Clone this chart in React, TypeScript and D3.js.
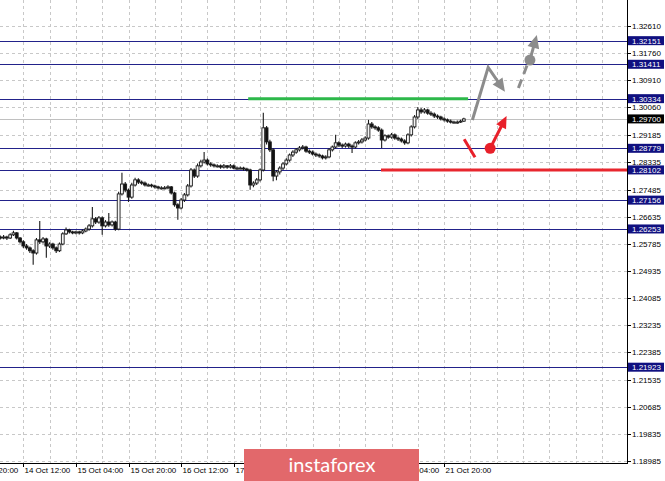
import React from 'react';
import * as d3 from 'd3';

const W = 665;
const H = 481;

const priceTicks = [1.3261, 1.3176, 1.3091, 1.3006, 1.29185, 1.28335, 1.27485, 1.26635, 1.25785, 1.24935, 1.24085, 1.23235, 1.22385, 1.21535, 1.20685, 1.19835, 1.18985];
const levelPrices = [1.32151, 1.31411, 1.30334, 1.28779, 1.28102, 1.27156, 1.26253, 1.21923];
const bidPrice = 1.297;
const timeTickIdx = [-9, 7, 23, 39, 55, 71, 87, 103, 119, 135];
const timeTickLabels = ['13 Oct 20:00', '14 Oct 12:00', '15 Oct 04:00', '15 Oct 20:00', '16 Oct 12:00', '17 Oct 04:00', '17 Oct 20:00', '18 Oct 12:00', '21 Oct 04:00', '21 Oct 20:00'];

const opens = [1.2600, 1.2597, 1.2600, 1.2597, 1.2607, 1.2613, 1.2597, 1.2585, 1.2572, 1.2566,
  1.2557, 1.2550, 1.2591, 1.2585, 1.2594, 1.2572, 1.2578, 1.2566, 1.2557, 1.2578,
  1.2610, 1.2622, 1.2616, 1.2613, 1.2616, 1.2613, 1.2619, 1.2625, 1.2635, 1.2657,
  1.2647, 1.2660, 1.2635, 1.2647, 1.2638, 1.2647, 1.2625, 1.2735, 1.2766, 1.2747,
  1.2725, 1.2763, 1.2779, 1.2772, 1.2769, 1.2763, 1.2763, 1.2760, 1.2757, 1.2754,
  1.2754, 1.2754, 1.2757, 1.2738, 1.2701, 1.2691, 1.2716, 1.2732, 1.2760, 1.2810,
  1.2791, 1.2823, 1.2835, 1.2841, 1.2829, 1.2826, 1.2823, 1.2823, 1.2819, 1.2823,
  1.2819, 1.2823, 1.2816, 1.2816, 1.2816, 1.2813, 1.2810, 1.2763, 1.2769, 1.2779,
  1.2810, 1.2942, 1.2898, 1.2873, 1.2791, 1.2804, 1.2816, 1.2829, 1.2841, 1.2857,
  1.2866, 1.2873, 1.2879, 1.2882, 1.2869, 1.2866, 1.2860, 1.2857, 1.2854, 1.2848,
  1.2851, 1.2873, 1.2882, 1.2895, 1.2888, 1.2885, 1.2891, 1.2885, 1.2882, 1.2895,
  1.2898, 1.2904, 1.2910, 1.2954, 1.2945, 1.2942, 1.2935, 1.2904, 1.2917, 1.2913,
  1.2920, 1.2910, 1.2907, 1.2901, 1.2895, 1.2920, 1.2945, 1.2976, 1.2998, 1.2992,
  1.2998, 1.2988, 1.2985, 1.2979, 1.2976, 1.2970, 1.2967, 1.2963, 1.2960, 1.2960,
  1.2960, 1.2963];

const closes = [1.2597, 1.2600, 1.2597, 1.2607, 1.2613, 1.2597, 1.2585, 1.2572, 1.2566, 1.2557,
  1.2550, 1.2591, 1.2585, 1.2594, 1.2572, 1.2578, 1.2566, 1.2557, 1.2578, 1.2610,
  1.2622, 1.2616, 1.2613, 1.2616, 1.2613, 1.2619, 1.2625, 1.2635, 1.2657, 1.2647,
  1.2660, 1.2635, 1.2647, 1.2638, 1.2647, 1.2625, 1.2735, 1.2766, 1.2747, 1.2725,
  1.2763, 1.2779, 1.2772, 1.2769, 1.2763, 1.2763, 1.2760, 1.2757, 1.2754, 1.2754,
  1.2754, 1.2757, 1.2738, 1.2701, 1.2691, 1.2716, 1.2732, 1.2760, 1.2810, 1.2791,
  1.2823, 1.2835, 1.2841, 1.2829, 1.2826, 1.2823, 1.2823, 1.2819, 1.2823, 1.2819,
  1.2823, 1.2816, 1.2816, 1.2816, 1.2813, 1.2810, 1.2763, 1.2769, 1.2779, 1.2810,
  1.2942, 1.2898, 1.2873, 1.2791, 1.2804, 1.2816, 1.2829, 1.2841, 1.2857, 1.2866,
  1.2873, 1.2879, 1.2882, 1.2869, 1.2866, 1.2860, 1.2857, 1.2854, 1.2848, 1.2851,
  1.2873, 1.2882, 1.2895, 1.2888, 1.2885, 1.2891, 1.2885, 1.2882, 1.2895, 1.2898,
  1.2904, 1.2910, 1.2954, 1.2945, 1.2942, 1.2935, 1.2904, 1.2917, 1.2913, 1.2920,
  1.2910, 1.2907, 1.2901, 1.2895, 1.2920, 1.2945, 1.2976, 1.2998, 1.2992, 1.2998,
  1.2988, 1.2985, 1.2979, 1.2976, 1.2970, 1.2967, 1.2963, 1.2960, 1.2960, 1.2960,
  1.2963, 1.2970];

const highs = [1.2605, 1.2606, 1.2604, 1.2612, 1.2620, 1.2616, 1.2600, 1.2590, 1.2578, 1.2570,
  1.2562, 1.2597, 1.2650, 1.2600, 1.2598, 1.2584, 1.2582, 1.2570, 1.2583, 1.2615,
  1.2630, 1.2626, 1.2620, 1.2620, 1.2620, 1.2624, 1.2630, 1.2641, 1.2694, 1.2663,
  1.2666, 1.2664, 1.2653, 1.2675, 1.2652, 1.2651, 1.2742, 1.2801, 1.2772, 1.2752,
  1.2770, 1.2786, 1.2784, 1.2777, 1.2774, 1.2768, 1.2767, 1.2764, 1.2761, 1.2759,
  1.2760, 1.2762, 1.2760, 1.2742, 1.2706, 1.2722, 1.2738, 1.2766, 1.2816, 1.2815,
  1.2830, 1.2842, 1.2866, 1.2846, 1.2834, 1.2830, 1.2828, 1.2827, 1.2829, 1.2826,
  1.2829, 1.2827, 1.2821, 1.2821, 1.2820, 1.2817, 1.2814, 1.2775, 1.2785, 1.2815,
  1.2989, 1.2948, 1.2905, 1.2878, 1.2810, 1.2822, 1.2834, 1.2847, 1.2862, 1.2872,
  1.2879, 1.2885, 1.2888, 1.2886, 1.2874, 1.2871, 1.2865, 1.2862, 1.2858, 1.2856,
  1.2878, 1.2887, 1.2920, 1.2900, 1.2893, 1.2896, 1.2895, 1.2890, 1.2900, 1.2904,
  1.2910, 1.2916, 1.2967, 1.2960, 1.2950, 1.2947, 1.2940, 1.2922, 1.2921, 1.2926,
  1.2924, 1.2915, 1.2912, 1.2906, 1.2925, 1.2950, 1.2982, 1.3007, 1.3004, 1.3004,
  1.3002, 1.2994, 1.2990, 1.2984, 1.2980, 1.2975, 1.2971, 1.2968, 1.2964, 1.2965,
  1.2967, 1.2974];

const lows = [1.2592, 1.2593, 1.2591, 1.2594, 1.2603, 1.2592, 1.2580, 1.2566, 1.2560, 1.2550,
  1.2513, 1.2545, 1.2578, 1.2580, 1.2535, 1.2566, 1.2560, 1.2550, 1.2553, 1.2574,
  1.2606, 1.2611, 1.2609, 1.2609, 1.2608, 1.2609, 1.2615, 1.2620, 1.2630, 1.2641,
  1.2642, 1.2607, 1.2630, 1.2632, 1.2633, 1.2620, 1.2621, 1.2730, 1.2740, 1.2710,
  1.2720, 1.2758, 1.2766, 1.2764, 1.2758, 1.2758, 1.2755, 1.2752, 1.2749, 1.2749,
  1.2750, 1.2750, 1.2733, 1.2695, 1.2654, 1.2686, 1.2710, 1.2727, 1.2755, 1.2785,
  1.2786, 1.2818, 1.2830, 1.2824, 1.2820, 1.2818, 1.2818, 1.2814, 1.2815, 1.2814,
  1.2815, 1.2812, 1.2811, 1.2812, 1.2808, 1.2805, 1.2748, 1.2756, 1.2763, 1.2774,
  1.2805, 1.2890, 1.2866, 1.2775, 1.2778, 1.2796, 1.2810, 1.2824, 1.2836, 1.2851,
  1.2861, 1.2868, 1.2874, 1.2864, 1.2860, 1.2855, 1.2851, 1.2848, 1.2843, 1.2843,
  1.2847, 1.2868, 1.2877, 1.2882, 1.2879, 1.2880, 1.2879, 1.2863, 1.2877, 1.2890,
  1.2893, 1.2899, 1.2905, 1.2939, 1.2936, 1.2930, 1.2879, 1.2899, 1.2908, 1.2908,
  1.2905, 1.2901, 1.2896, 1.2889, 1.2891, 1.2915, 1.2940, 1.2970, 1.2986, 1.2987,
  1.2983, 1.2979, 1.2973, 1.2970, 1.2965, 1.2962, 1.2958, 1.2956, 1.2956, 1.2955,
  1.2957, 1.2960];

// annotation anchors in (bar index, price)
const greenLevel = { from: 75.4, to: 142.3, price: 1.30334 };
const redLevel = { from: 115.8, to: 190.5, price: 1.28102 };
const redSlash = [[141.1, 1.2906], [144.4, 1.2850]];
const redDot = [149.0, 1.28779];
const redArrowTip = [154.0, 1.2979];
const grayPath = [[143.6, 1.29666], [148.4, 1.31316], [153.5, 1.30552]];
const grayDash = [[157.6, 1.30670], [160.3, 1.31400]];
const grayDot = [161.1, 1.31544];
const grayArrowTip = [163.2, 1.32327];

const xScale = d3.scaleLinear().domain([0, 190]).range([0.3, 0.3 + 190 * 3.2875]);
const yScale = d3.scaleLinear().domain([1.18985, 1.3261]).range([461, 26]);

const PLOT_R = 627;
const PLOT_B = 463;
const FONT = "'Liberation Sans', Arial, sans-serif";

function arrowHead(tip: number[], from: number[], len: number, half: number) {
  const tx = xScale(tip[0]), ty = yScale(tip[1]);
  const fx = xScale(from[0]), fy = yScale(from[1]);
  const dx = tx - fx, dy = ty - fy;
  const d = Math.hypot(dx, dy);
  const ux = dx / d, uy = dy / d;
  const bx = tx - ux * len, by = ty - uy * len;
  const px = -uy, py = ux;
  return `M${tx},${ty}L${bx + px * half},${by + py * half}L${bx - px * half},${by - py * half}Z`;
}

function shorten(tip: number[], from: number[], by: number) {
  const tx = xScale(tip[0]), ty = yScale(tip[1]);
  const fx = xScale(from[0]), fy = yScale(from[1]);
  const d = Math.hypot(tx - fx, ty - fy);
  return [tx - ((tx - fx) / d) * by, ty - ((ty - fy) / d) * by];
}

export default function App() {
  const gridX: number[] = [];
  for (let i = -1; xScale(i) < PLOT_R; i += 8) gridX.push(i);

  const bw = 2.8;
  const line = d3.line<number[]>().x(d => xScale(d[0])).y(d => yScale(d[1]));

  const grayEnd = shorten(grayPath[2], grayPath[1], 9);
  const redEnd = shorten(redArrowTip, redDot, 9);
  const grayTopEnd = shorten(grayArrowTip, grayDot, 9);

  return (
    <svg width={W} height={H} style={{ position: 'absolute', left: 0, top: 0, background: '#fff' }}>
      <rect x={0} y={0} width={W} height={H} fill="#fff" />
      {/* grid */}
      <g stroke="#c8c8c8" strokeWidth={1} strokeDasharray="3,3">
        {priceTicks.map((p, i) => (
          <line key={'gy' + i} x1={0} x2={PLOT_R} y1={Math.round(yScale(p)) + 0.5} y2={Math.round(yScale(p)) + 0.5} />
        ))}
        {gridX.map(i => (
          <line key={'gx' + i} x1={Math.round(xScale(i)) + 0.5} x2={Math.round(xScale(i)) + 0.5} y1={0} y2={PLOT_B} />
        ))}
      </g>
      {/* bid line */}
      <line x1={0} x2={PLOT_R} y1={Math.round(yScale(bidPrice)) + 0.5} y2={Math.round(yScale(bidPrice)) + 0.5} stroke="#c0c0c0" strokeWidth={1} />
      {/* level lines */}
      {levelPrices.map((p, i) => (
        <line key={'lv' + i} x1={0} x2={PLOT_R} y1={Math.round(yScale(p)) + 0.5} y2={Math.round(yScale(p)) + 0.5} stroke="#22228a" strokeWidth={1.2} />
      ))}
      {/* candles */}
      <g>
        {closes.map((c, i) => {
          const o = opens[i];
          const x = xScale(i);
          const yTop = yScale(Math.max(o, c));
          const yBot = yScale(Math.min(o, c));
          const bull = c >= o;
          return (
            <g key={'c' + i}>
              <line x1={x} x2={x} y1={yScale(highs[i])} y2={yScale(lows[i])} stroke="#1a1a1a" strokeWidth={1.1} />
              <rect x={x - bw / 2} y={yTop} width={bw} height={Math.max(1, yBot - yTop)}
                fill={bull ? '#f4f4f4' : '#111'} stroke="#1a1a1a" strokeWidth={0.9} />
            </g>
          );
        })}
      </g>
      {/* green & red level segments */}
      <line x1={xScale(greenLevel.from)} x2={xScale(greenLevel.to)} y1={yScale(greenLevel.price)} y2={yScale(greenLevel.price)} stroke="#2db84a" strokeWidth={3} />
      <line x1={xScale(redLevel.from)} x2={PLOT_R} y1={yScale(redLevel.price)} y2={yScale(redLevel.price)} stroke="#e8262e" strokeWidth={3} />
      {/* red scenario */}
      <path d={line(redSlash as number[][]) || ''} stroke="#e8202a" strokeWidth={3} fill="none" />
      <circle cx={xScale(redDot[0])} cy={yScale(redDot[1])} r={5.5} fill="#e8202a" />
      <line x1={xScale(redDot[0])} y1={yScale(redDot[1])} x2={redEnd[0]} y2={redEnd[1]} stroke="#e8202a" strokeWidth={3} />
      <path d={arrowHead(redArrowTip, redDot, 12, 5.5)} fill="#e8202a" />
      {/* gray scenario */}
      <path d={`M${xScale(grayPath[0][0])},${yScale(grayPath[0][1])}L${xScale(grayPath[1][0])},${yScale(grayPath[1][1])}L${grayEnd[0]},${grayEnd[1]}`} stroke="#8c8c8c" strokeWidth={3} fill="none" strokeLinejoin="miter" />
      <path d={arrowHead(grayPath[2], grayPath[1], 13, 6)} fill="#8c8c8c" />
      <path d={line(grayDash as number[][]) || ''} stroke="#8c8c8c" strokeWidth={3} fill="none" strokeDasharray="9,6" />
      <circle cx={xScale(grayDot[0])} cy={yScale(grayDot[1])} r={5.5} fill="#8c8c8c" />
      <line x1={xScale(grayDot[0])} y1={yScale(grayDot[1])} x2={grayTopEnd[0]} y2={grayTopEnd[1]} stroke="#8c8c8c" strokeWidth={3} />
      <path d={arrowHead(grayArrowTip, grayDot, 13, 6)} fill="#8c8c8c" />
      {/* axes */}
      <line x1={PLOT_R + 0.5} x2={PLOT_R + 0.5} y1={0} y2={PLOT_B + 1} stroke="#000" strokeWidth={1} />
      <line x1={0} x2={PLOT_R + 1} y1={PLOT_B + 0.5} y2={PLOT_B + 0.5} stroke="#000" strokeWidth={1} />
      {/* right axis labels */}
      <g fontFamily={FONT} fontSize={8} fill="#000">
        {priceTicks.map((p, i) => (
          <g key={'pt' + i}>
            <line x1={PLOT_R} x2={PLOT_R + 4} y1={Math.round(yScale(p)) + 0.5} y2={Math.round(yScale(p)) + 0.5} stroke="#000" />
            <text x={PLOT_R + 5} y={yScale(p) + 3}>{p.toFixed(5)}</text>
          </g>
        ))}
        {levelPrices.map((p, i) => (
          <g key={'lb' + i}>
            <rect x={PLOT_R + 1} y={yScale(p) - 4.5} width={36} height={9} fill="#101080" />
            <text x={PLOT_R + 5} y={yScale(p) + 3} fill="#fff">{p.toFixed(5)}</text>
          </g>
        ))}
        <rect x={PLOT_R + 1} y={yScale(bidPrice) - 4.5} width={36} height={9} fill="#000" />
        <text x={PLOT_R + 5} y={yScale(bidPrice) + 3} fill="#fff">{bidPrice.toFixed(5)}</text>
      </g>
      {/* bottom axis labels */}
      <g fontFamily={FONT} fontSize={8} fill="#000">
        {timeTickIdx.map((t, i) => {
          const x = Math.round(xScale(t)) + 0.5;
          return (
            <g key={'tt' + i}>
              <line x1={x} x2={x} y1={PLOT_B} y2={PLOT_B + 4} stroke="#000" />
              <text x={x + 1} y={PLOT_B + 10}>{timeTickLabels[i]}</text>
            </g>
          );
        })}
      </g>
      {/* watermark logo */}
      <rect x={244} y={449} width={175} height={40} fill="#e2686b" />
      <text x={332} y={472} textAnchor="middle" fontFamily="Lato, 'Open Sans', sans-serif" fontSize={20} fill="#fff">instaforex</text>
    </svg>
  );
}
